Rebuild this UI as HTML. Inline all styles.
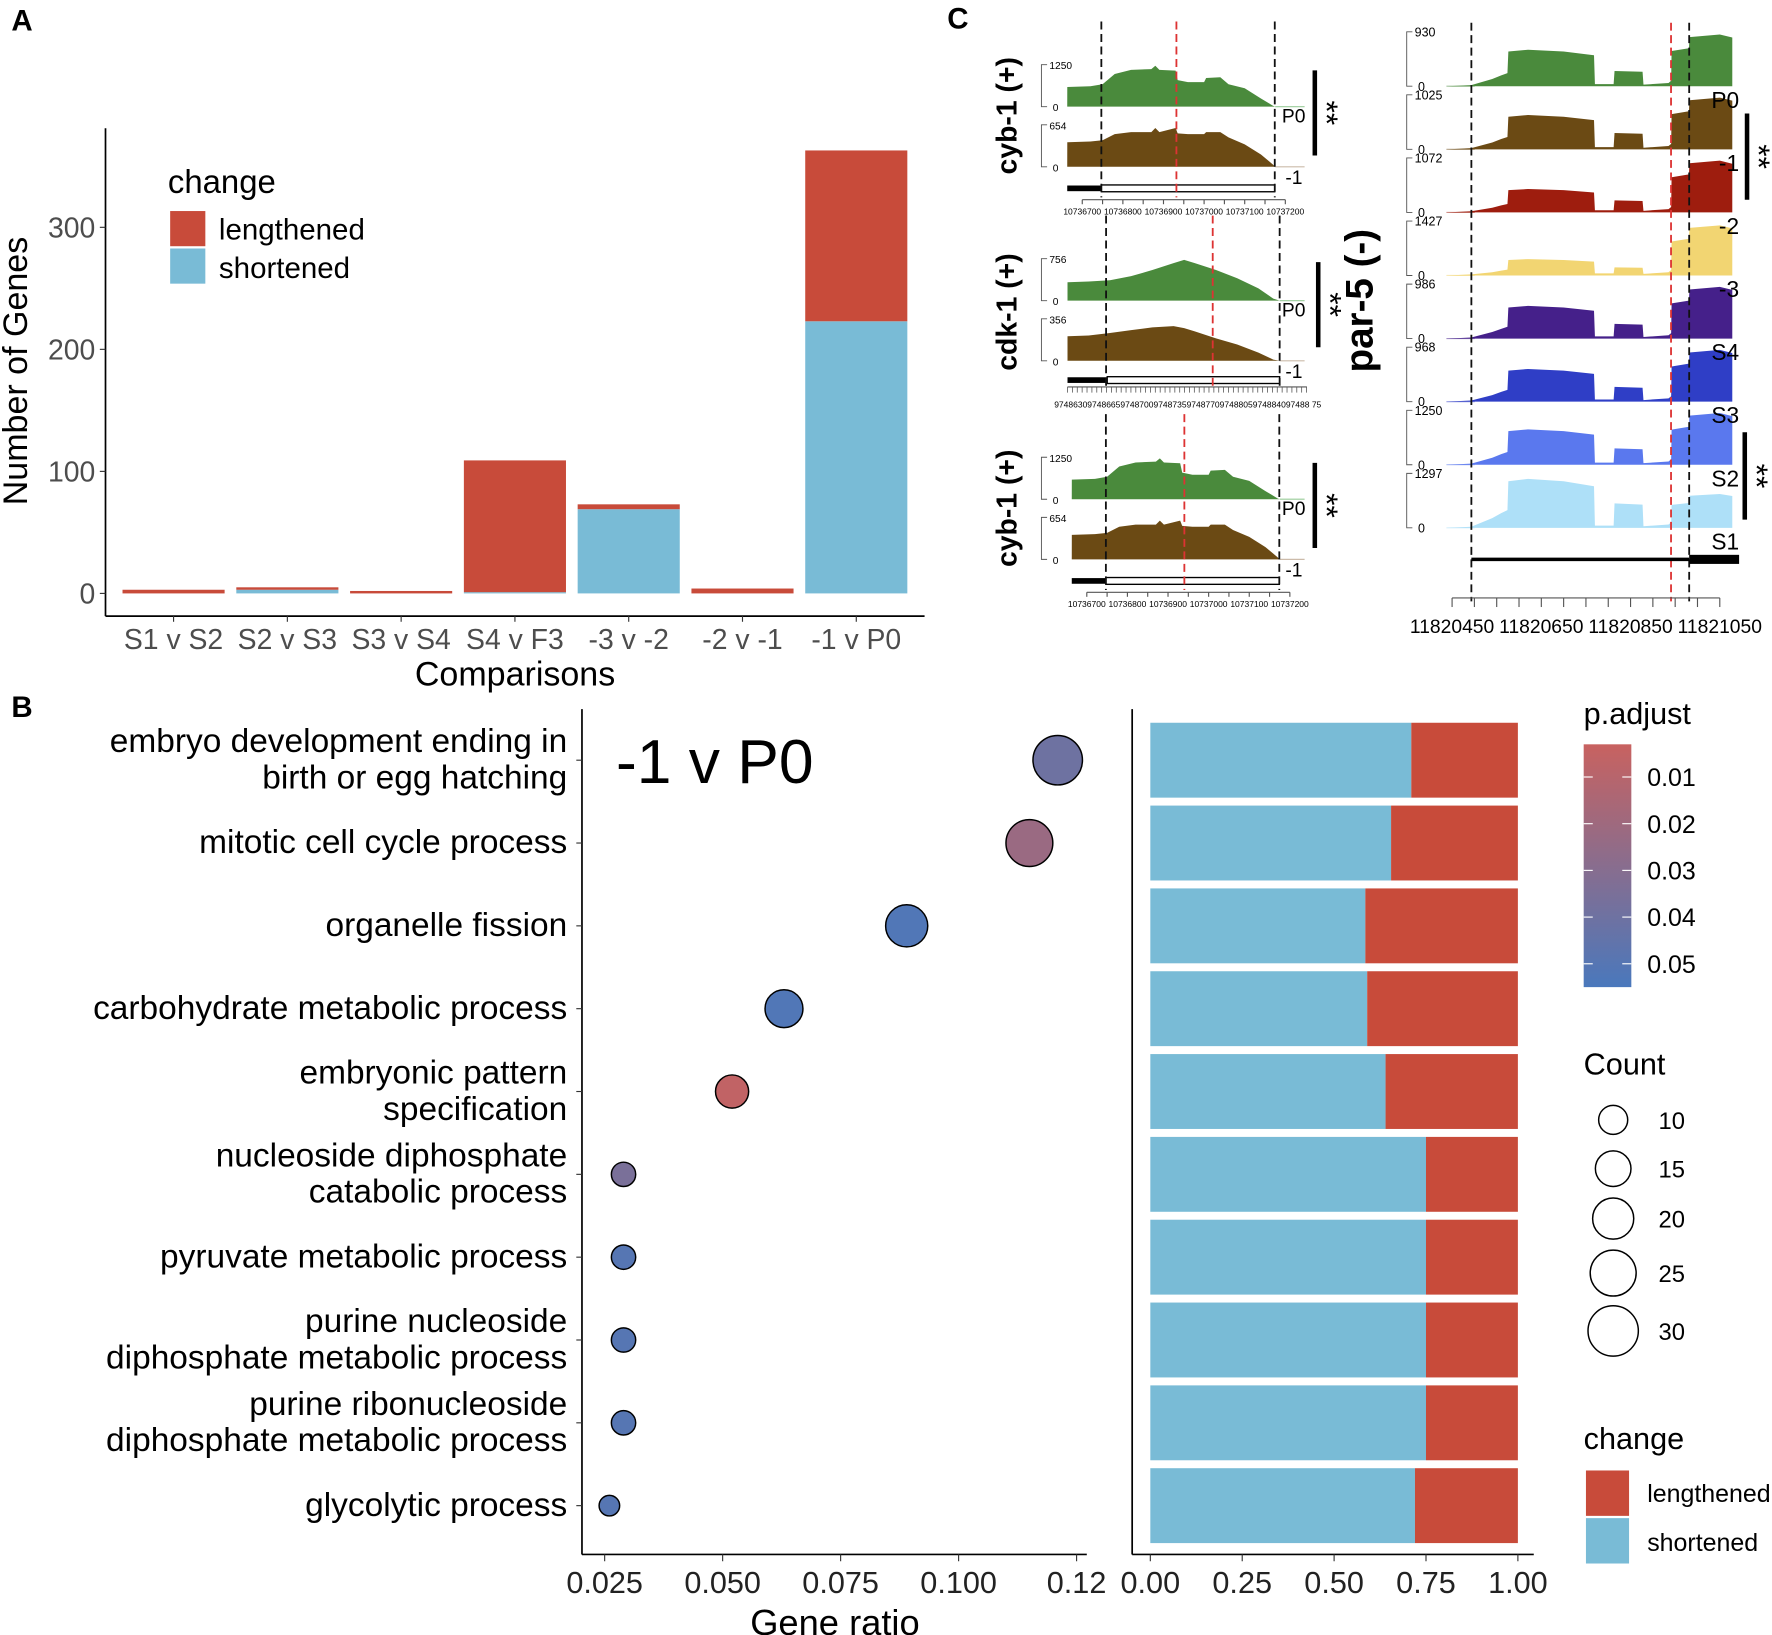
<!DOCTYPE html>
<html><head><meta charset="utf-8"><style>
html,body{margin:0;padding:0;background:#fff}
svg{display:block;font-family:"Liberation Sans",Arial,sans-serif}
</style></head><body>
<svg id="fig" width="1772" height="1635" viewBox="0 0 1562 1441" preserveAspectRatio="none" xmlns="http://www.w3.org/2000/svg">
<rect width="1562" height="1441" fill="#fff"/>
<g id="A"></g>
<g id="B"></g>
<g id="C"></g>
</svg>
<script>
// ---------- Panel A data ----------
const compCategories = ["S1 v S2","S2 v S3","S3 v S4","S4 v F3","-3 v -2","-2 v -1","-1 v P0"];
const shortenedCounts = [0,3,0,1,69,0,223];
const lengthenedCounts = [3,2,2,108,4,4,140];
const yTicksA = [0,100,200,300];
// ---------- Panel B data ----------
const goTerms = [["embryo development ending in","birth or egg hatching"],["mitotic cell cycle process"],["organelle fission"],["carbohydrate metabolic process"],["embryonic pattern","specification"],["nucleoside diphosphate","catabolic process"],["pyruvate metabolic process"],["purine nucleoside","diphosphate metabolic process"],["purine ribonucleoside","diphosphate metabolic process"],["glycolytic process"]];
const geneRatio = [0.121,0.115,0.089,0.063,0.052,0.029,0.029,0.029,0.029,0.026];
const goCount = [29,26,21,17,13,7,7,7,7,5];
const pAdjust = [0.040,0.022,0.052,0.052,0.006,0.035,0.050,0.050,0.050,0.050];
const shortFrac = [0.71,0.655,0.585,0.59,0.64,0.75,0.75,0.75,0.75,0.72];
const xTicksDot = [0.025,0.050,0.075,0.100,0.125];
const xTickLabelsDot = ["0.025","0.050","0.075","0.100","0.12"];
const xTicksBar = [0,0.25,0.5,0.75,1];
const pLegendTicks = [0.01,0.02,0.03,0.04,0.05];
const countLegend = [10,15,20,25,30];
// ---------- Panel C data ----------
const cybPos = [10736663,10736720,10736750,10736780,10736820,10736870,10736880,10736890,10736930,10736935,10736960,10737000,10737005,10737040,10737060,10737100,10737140,10737170,10737175];
const cybGreen = [0.48,0.5,0.55,0.8,0.9,0.92,1.0,0.9,0.88,0.65,0.6,0.6,0.7,0.72,0.55,0.45,0.2,0.02,0];
const cybBrown = [0.6,0.62,0.65,0.8,0.85,0.85,0.95,0.85,0.95,0.82,0.8,0.8,0.85,0.85,0.72,0.55,0.3,0.05,0];
const cdkPos = [0,0.1,0.2,0.3,0.4,0.5,0.55,0.6,0.7,0.8,0.9,0.97,1.0];
const cdkGreen = [0.45,0.47,0.5,0.6,0.75,0.92,1.0,0.92,0.75,0.55,0.3,0.05,0];
const cdkBrown = [0.6,0.62,0.68,0.75,0.82,0.85,0.8,0.72,0.55,0.4,0.2,0.03,0];
const par5Stages = ["P0","-1","-2","-3","S4","S3","S2","S1"];
const par5Max = ["930","1025","1072","1427","986","968","1250","1297"];
const par5Exon = [0.67,0.63,0.43,0.3,0.6,0.6,0.65,0.9];
const par5Mid = [0.28,0.3,0.22,0.15,0.27,0.27,0.3,0.45];
const par5Tail = [0.95,0.95,0.95,0.92,0.95,0.95,0.95,0.62];
const par5Colors = ["#4a8a3c","#6b4a14","#9e1d0e","#f2d572","#45208a","#2f3ec6","#5a78ee","#aee0f8"];
const par5TickLabels = [11820450,11820650,11820850,11821050];

const NS="http://www.w3.org/2000/svg";
function mk(tag,attrs,parent,txt){const e=document.createElementNS(NS,tag);for(const k in attrs)e.setAttribute(k,attrs[k]);if(txt!==undefined)e.textContent=txt;parent.appendChild(e);return e;}
const A=document.getElementById('A'),B=document.getElementById('B'),C=document.getElementById('C');
const RED="#c84b3a",BLUE="#79bbd6";

// ===== Panel A =====
let t=mk('text',{x:10,y:27,'font-size':26,'font-weight':'bold'},A,'A');

const ayA=v=>523-v*1.0755, axA=i=>153+i*100.3;
let l=mk('line',{x1:93,y1:113,x2:93,y2:543,stroke:'#000','stroke-width':1.5},A);

l=mk('line',{x1:93,y1:543,x2:815,y2:543,stroke:'#000','stroke-width':1.5},A);

yTicksA.forEach(v=>{mk('line',{x1:88,x2:93,y1:ayA(v),y2:ayA(v),stroke:'#333'},A);
 const tt=mk('text',{x:84,y:ayA(v)+9,'font-size':25,'text-anchor':'end',fill:'#4d4d4d'},A,String(v));
 });
compCategories.forEach((c,i)=>{const x=axA(i);
 const s=shortenedCounts[i],L=lengthenedCounts[i];
 let r=mk('rect',{x:x-45,y:ayA(s),width:90,height:ayA(0)-ayA(s),fill:BLUE},A);
 
 r=mk('rect',{x:x-45,y:ayA(s+L),width:90,height:ayA(s)-ayA(s+L),fill:RED},A);
 
 mk('line',{x1:x,x2:x,y1:543,y2:548,stroke:'#333'},A);
 const tt=mk('text',{x:x,y:572,'font-size':25,'text-anchor':'middle',fill:'#4d4d4d'},A,c);
 });
t=mk('text',{x:454,y:604,'font-size':30,'text-anchor':'middle'},A,'Comparisons');

t=mk('text',{x:0,y:0,'font-size':30,'text-anchor':'middle',transform:'translate(24,327) rotate(-90)'},A,'Number of Genes');

t=mk('text',{x:148,y:170,'font-size':29},A,'change');

let r=mk('rect',{x:150,y:186,width:31,height:31,fill:RED},A);
r=mk('rect',{x:150,y:219,width:31,height:31,fill:BLUE},A);
t=mk('text',{x:193,y:211,'font-size':26},A,'lengthened');
t=mk('text',{x:193,y:245,'font-size':26},A,'shortened');

// ===== Panel B =====
t=mk('text',{x:10,y:632,'font-size':26,'font-weight':'bold'},B,'B');

const rowY=i=>670+i*73.0;
const axD=v=>533+(v-0.025)*4160;
const axB=v=>1014+v*324;
const pMin=0.003,pMax=0.055;
function pColor(p){let f=(p-pMin)/(pMax-pMin);f=Math.max(0,Math.min(1,f));
 const a=[200,98,96],b=[74,120,188];return `rgb(${a.map((c,k)=>Math.round(c+(b[k]-c)*f)).join(',')})`;}
const radius=c=>4.05*Math.sqrt(c);
l=mk('line',{x1:513,y1:625,x2:513,y2:1370,stroke:'#000','stroke-width':1.5},B);
l=mk('line',{x1:513,y1:1370,x2:958,y2:1370,stroke:'#000','stroke-width':1.5},B);
l=mk('line',{x1:998,y1:625,x2:998,y2:1370,stroke:'#000','stroke-width':1.5},B);
l=mk('line',{x1:998,y1:1370,x2:1352,y2:1370,stroke:'#000','stroke-width':1.5},B);
goTerms.forEach((lines,i)=>{const y=rowY(i);
 mk('line',{x1:508,x2:513,y1:y,y2:y,stroke:'#333'},B);
 const tt=mk('text',{'font-size':29.5,'text-anchor':'end'},B);
 
 lines.forEach((s,k)=>{const y0=lines.length===1?y+9:y-7+k*32;mk('tspan',{x:500,y:y0},tt,s);});
 const c=mk('circle',{cx:axD(geneRatio[i]),cy:y,r:radius(goCount[i]),fill:pColor(pAdjust[i]),stroke:'#000','stroke-width':1.3},B);
 
 const sf=shortFrac[i],top=y-33,h=66;
 let rr=mk('rect',{x:axB(0),y:top,width:axB(sf)-axB(0),height:h,fill:BLUE},B);
 
 rr=mk('rect',{x:axB(sf),y:top,width:axB(1)-axB(sf),height:h,fill:RED},B);
 });
xTicksDot.forEach((v,i)=>{mk('line',{x1:axD(v),x2:axD(v),y1:1370,y2:1376,stroke:'#333'},B);
 const tt=mk('text',{x:axD(v),y:1404,'font-size':27,'text-anchor':'middle',fill:'#222'},B,xTickLabelsDot[i]);
 });
xTicksBar.forEach(v=>{mk('line',{x1:axB(v),x2:axB(v),y1:1370,y2:1376,stroke:'#333'},B);
 const tt=mk('text',{x:axB(v),y:1404,'font-size':27,'text-anchor':'middle',fill:'#222'},B,v.toFixed(2));
 });
t=mk('text',{x:736,y:1441,'font-size':32,'text-anchor':'middle'},B,'Gene ratio');
t=mk('text',{x:543,y:690,'font-size':55},B,'-1 v P0');
// legends
t=mk('text',{x:1396,y:638,'font-size':27},B,'p.adjust');
const defs=mk('defs',{},B);const g=mk('linearGradient',{id:'pg',x1:0,y1:0,x2:0,y2:1},defs);
mk('stop',{offset:0,'stop-color':pColor(pMin)},g);mk('stop',{offset:1,'stop-color':pColor(pMax)},g);
r=mk('rect',{x:1396,y:656,width:42,height:214,fill:'url(#pg)'},B);
const pY=p=>656+(p-pMin)/(pMax-pMin)*214;
pLegendTicks.forEach(p=>{const y=pY(p);mk('line',{x1:1396,x2:1404,y1:y,y2:y,stroke:'#fff'},B);mk('line',{x1:1430,x2:1438,y1:y,y2:y,stroke:'#fff'},B);
 const tt=mk('text',{x:1452,y:y+8,'font-size':22},B,p.toFixed(2));});
t=mk('text',{x:1396,y:947,'font-size':27},B,'Count');
countLegend.forEach((c,i)=>{const y=[987,1030,1074,1122,1173][i];
 const cc=mk('circle',{cx:1422,cy:y,r:radius(c),fill:'none',stroke:'#000','stroke-width':1.3},B);
 const tt=mk('text',{x:1462,y:y+8,'font-size':21},B,String(c));});
t=mk('text',{x:1396,y:1277,'font-size':27},B,'change');
r=mk('rect',{x:1398,y:1296,width:38,height:40,fill:RED},B);
r=mk('rect',{x:1398,y:1338,width:38,height:40,fill:BLUE},B);
t=mk('text',{x:1452,y:1324,'font-size':22},B,'lengthened');
t=mk('text',{x:1452,y:1367,'font-size':22},B,'shortened');

// ===== Panel C =====
t=mk('text',{x:835,y:25,'font-size':26,'font-weight':'bold'},C,'C');
function area(pos,vals,sx,base,h,color,name){
 let d=`M${sx(pos[0])},${base}`;pos.forEach((p,i)=>{d+=` L${sx(p).toFixed(1)},${(base-vals[i]*h).toFixed(1)}`;});
 d+=` L${sx(pos[pos.length-1])},${base} Z`;
 const pth=mk('path',{d:d,fill:color},C);}
function bracket(x,base,h,label,fs){fs=fs||9;mk('path',{d:`M${x+5},${base-h} H${x} V${base} H${x+5}`,fill:'none',stroke:'#555','stroke-width':0.8},C);
 let tt=mk('text',{x:x+7,y:base-h+4,'font-size':fs},C,label);
 tt=mk('text',{x:x+10,y:base+4,'font-size':fs},C,'0');}
function dashed(x,y1,y2,col){const d=mk('line',{x1:x,x2:x,y1:y1,y2:y2,stroke:col,'stroke-width':1.6,'stroke-dasharray':'7,4'},C);}
function sig(x,y1,y2){const b=mk('line',{x1:x,x2:x,y1:y1,y2:y2,stroke:'#000','stroke-width':4},C);
 const s=mk('text',{x:0,y:0,'font-size':28,'text-anchor':'middle',transform:`translate(${x+1},${(y1+y2)/2}) rotate(90)`},C,'**');}
function geneLabel(x,y,s,fs){const tt=mk('text',{x:0,y:0,'font-size':fs,'font-weight':'bold','text-anchor':'middle',transform:`translate(${x},${y}) rotate(-90)`},C,s);}
// cyb-1 panels
[[0,94,1037],[4,440,1044]].forEach(([off,gb,redx],k)=>{
 const sx=p=>954+off+(p-10736700)*0.358;
 const bb=gb+53;
 area(cybPos,cybGreen,sx,gb,36,'#4a8a3c','track-p0');
 area(cybPos,cybBrown,sx,bb,36,'#6b4a14','track-minus1');
 mk('line',{x1:sx(10737175),x2:1150,y1:gb,y2:gb,stroke:'#9c9',"stroke-width":1},C);
 mk('line',{x1:sx(10737175),x2:1150,y1:bb,y2:bb,stroke:'#cba',"stroke-width":1},C);
 bracket(918,gb,37,'1250');bracket(918,bb,37,'654');
 let tt=mk('text',{x:1130,y:gb+14,'font-size':17},C,'P0');
 tt=mk('text',{x:1133,y:bb+15,'font-size':17},C,'-1');
 const gy=bb+19;
 mk('rect',{x:sx(10736663),y:gy-2.5,width:sx(10736747)-sx(10736663),height:5,fill:'#000'},C);
 mk('rect',{x:sx(10736747),y:gy-3,width:sx(10737174)-sx(10736747),height:6,fill:'none',stroke:'#000','stroke-width':1.2},C);
 const ay=gy+10;mk('line',{x1:sx(10736700),x2:sx(10737200),y1:ay,y2:ay,stroke:'#555'},C);
 for(let p=10736700;p<=10737200;p+=50)mk('line',{x1:sx(p),x2:sx(p),y1:ay,y2:ay+4,stroke:'#555'},C);
 for(let p=10736700;p<=10737200;p+=100){const q=mk('text',{x:sx(p),y:ay+13,'font-size':7.5,'text-anchor':'middle'},C,String(p));}
 dashed(sx(10736747),gb-75,gy+8,'#111');dashed(sx(10737174),gb-75,gy+8,'#111');dashed(redx,gb-75,gy+8,'#d33');
 sig(1159,gb-32,bb-10);
 geneLabel(896,gb+8,'cyb-1 (+)',25);});
// cdk-1 panel
(function(){const gb=265,bb=318;const sx=p=>941+p*187;
 area(cdkPos,cdkGreen,sx,gb,36,'#4a8a3c','track-p0');area(cdkPos,cdkBrown,sx,bb,36,'#6b4a14','track-minus1');
 mk('line',{x1:sx(1),x2:1150,y1:gb,y2:gb,stroke:'#9c9'},C);mk('line',{x1:sx(1),x2:1150,y1:bb,y2:bb,stroke:'#cba'},C);
 bracket(918,gb,37,'756');bracket(918,bb,37,'356');
 let tt=mk('text',{x:1130,y:gb+14,'font-size':17},C,'P0');
 tt=mk('text',{x:1133,y:bb+15,'font-size':17},C,'-1');
 const gy=335;mk('rect',{x:941,y:gy-2.5,width:35,height:5,fill:'#000'},C);mk('rect',{x:976,y:gy-3,width:152,height:6,fill:'none',stroke:'#000','stroke-width':1.2},C);
 const ay=341;mk('line',{x1:941,x2:1152,y1:ay,y2:ay,stroke:'#555'},C);
 for(let x=941;x<=1152;x+=4.3)mk('line',{x1:x,x2:x,y1:ay,y2:ay+5,stroke:'#555','stroke-width':0.7},C);
 tt=mk('text',{x:1047,y:359,'font-size':7.5,'text-anchor':'middle'},C,'974863097486659748700974873597487709748805974884097488 75');
 dashed(975,190,343,'#111');dashed(1128,190,343,'#111');dashed(1069,190,343,'#d33');
 sig(1162,231,306);geneLabel(896,275,'cdk-1 (+)',25);})();
// par-5
geneLabel(1210,265,'par-5 (-)',34);
const sxP=p=>1280+(p-11820450)*0.3933;
const parPos=[11820440,11820493,11820540,11820560,11820574,11820576,11820620,11820700,11820768,11820770,11820812,11820814,11820877,11820879,11820935,11820941,11820942,11820981,11820982,11821050,11821078];
par5Stages.forEach((s,i)=>{const base=76+i*55.6,h=48;const E=par5Exon[i],M=par5Mid[i],T=par5Tail[i],J=T*0.68;
 const vals=[0,0.02,0.2*E,0.3*E,0.36*E,0.95*E,1.0*E,0.95*E,0.85*E,0.04,0.04,M,M*0.95,0.03,0.06,0.1,J,J*1.08,T*0.95,T,T*0.94];
 mk('line',{x1:1275,x2:1300,y1:base,y2:base,stroke:par5Colors[i],'stroke-opacity':0.5},C);
 area(parPos,vals,sxP,base,h,par5Colors[i],'track-'+s);
 bracket(1240,base,h,par5Max[i],11);});
par5Stages.forEach((s,i)=>{const base=76+i*55.6;
 const tt=mk('text',{x:1533,y:base+19,'font-size':20,'text-anchor':'end'},C,s);});
dashed(1297,20,530,'#111');dashed(1489,20,530,'#111');dashed(1473,20,530,'#d33');
mk('line',{x1:1297,x2:1489,y1:493,y2:493,stroke:'#000','stroke-width':3},C);
mk('rect',{x:1489,y:489,width:44,height:8,fill:'#000'},C);
mk('line',{x1:1280,x2:1516,y1:527,y2:527,stroke:'#555'},C);
for(let p=11820450;p<=11821050;p+=50)mk('line',{x1:sxP(p),x2:sxP(p),y1:527,y2:535,stroke:'#555'},C);
par5TickLabels.forEach(p=>{const q=mk('text',{x:sxP(p),y:558,'font-size':17,'text-anchor':'middle'},C,String(p));});
sig(1540,100,176);sig(1538,381,458);
</script>
</body></html>
